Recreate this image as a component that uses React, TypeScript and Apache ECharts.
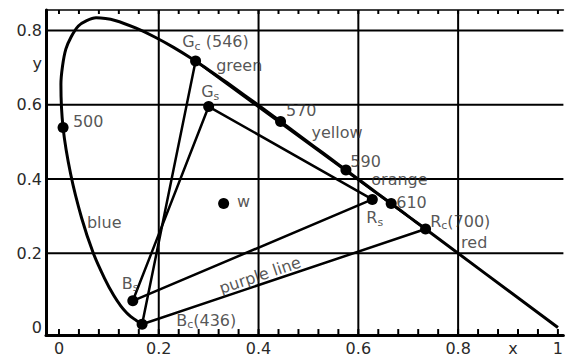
import React, { useEffect, useRef } from 'react';
import * as echarts from 'echarts';

// CIE 1931 spectral locus (chromaticity x, y), 436 nm to 700 nm
const locusWavelengths = [436, 440, 445, 450, 455, 460, 465, 470, 475, 480, 485, 490, 495, 500, 505, 510, 515, 520, 525, 530, 535, 540, 545, 550, 555, 560, 565, 570, 575, 580, 585, 590, 595, 600, 605, 610, 620, 630, 640, 650, 660, 680, 700];
const locusX = [0.1666, 0.1644, 0.1611, 0.1566, 0.151, 0.144, 0.1355, 0.1241, 0.1096, 0.0913, 0.0687, 0.0454, 0.0235, 0.0082, 0.0039, 0.0139, 0.0389, 0.0743, 0.1142, 0.1547, 0.1929, 0.2296, 0.2658, 0.3016, 0.3373, 0.3731, 0.4087, 0.4441, 0.4788, 0.5125, 0.5448, 0.5752, 0.6029, 0.627, 0.6482, 0.6658, 0.6915, 0.7079, 0.719, 0.726, 0.73, 0.7334, 0.7347];
const locusY = [0.0089, 0.0109, 0.0138, 0.0177, 0.0227, 0.0297, 0.0399, 0.0578, 0.0868, 0.1327, 0.2007, 0.295, 0.4127, 0.5384, 0.6548, 0.7502, 0.812, 0.8338, 0.8262, 0.8059, 0.7816, 0.7543, 0.7243, 0.6923, 0.6589, 0.6245, 0.5896, 0.5547, 0.5202, 0.4866, 0.4544, 0.4242, 0.3965, 0.3725, 0.3514, 0.334, 0.3083, 0.292, 0.2809, 0.274, 0.27, 0.2666, 0.2653];
// the x + y = 1 line carries on past 700 nm down to the x axis
const locusTail = [1.0, 0.0];

// CIE primaries (G_c, R_c, B_c) and the display primaries (G_s, R_s, B_s)
const primaryC = { g: [0.2738, 0.7174], r: [0.7347, 0.2653], b: [0.1666, 0.0089] };
const primaryS = { g: [0.3, 0.595], r: [0.628, 0.345], b: [0.148, 0.072] };
const whitePoint = [0.33, 0.334];

// marked wavelengths on the locus
const markedWavelengths = [500, 570, 590, 610];
const markedX = [0.0082, 0.4441, 0.5752, 0.6658];
const markedY = [0.5384, 0.5547, 0.4242, 0.334];

// axis ranges, grid and axis ticks
const X_MIN = -0.026;
const X_MAX = 1.011;
const Y_MIN = -0.02;
const Y_MAX = 0.855;
const gridLinesX = [0.2, 0.4, 0.6, 0.8];
const gridLinesY = [0.2, 0.4, 0.6, 0.8];
const xLabelValues = [0, 0.2, 0.4, 0.6, 0.8, 0.91, 1];
const xLabelTexts = ['0', '0.2', '0.4', '0.6', '0.8', 'x', '1'];
const yLabelValues = [0, 0.2, 0.4, 0.6, 0.71, 0.8];
const yLabelTexts = ['0', '0.2', '0.4', '0.6', 'y', '0.8'];
const minorTicksX = [0, 0.04, 0.08, 0.12, 0.16, 0.2, 0.24, 0.28, 0.32, 0.36, 0.4, 0.44, 0.48, 0.52, 0.56, 0.6, 0.64, 0.68, 0.72, 0.76, 0.8, 0.84, 0.88, 0.92, 0.96, 1];
// tick mark centres, just inside the bottom and top frame (data units)
const TICK_BOTTOM_Y = Y_MIN + 0.008;
const TICK_TOP_Y = Y_MAX - 0.0054;

// annotations: text, and the data point where the text starts
const annotationTexts = ['500', '{m|G}{s|c}{m| (546)}', 'green', '{m|G}{s|s}', '570', 'yellow', '590', 'orange', '610', '{m|R}{s|s}', '{m|R}{s|c}{m|(700)}', 'red', 'w', 'blue', '{m|B}{s|s}', '{m|B}{s|c}{m|(436)}'];
const annotationX = [0.028, 0.247, 0.315, 0.285, 0.455, 0.506, 0.584, 0.626, 0.676, 0.616, 0.744, 0.806, 0.357, 0.056, 0.126, 0.235];
const annotationY = [0.554, 0.770, 0.705, 0.635, 0.584, 0.525, 0.447, 0.399, 0.337, 0.296, 0.286, 0.230, 0.340, 0.283, 0.119, 0.020];
const purpleLabel = { text: 'purple line', x: 0.403, y: 0.141 };

const FONT = 'DejaVu Sans';
const INK = '#2a2a2a';

export default function App() {
  const ref = useRef<HTMLDivElement>(null);

  useEffect(() => {
    document.body.style.margin = '0';
    const chart = echarts.init(ref.current!, null, { renderer: 'svg' });

    const locusData = locusX.map((x, i) => [x, locusY[i], locusWavelengths[i]]);
    locusData.push([locusTail[0], locusTail[1], 0]);

    const triC = [primaryC.g, primaryC.r, primaryC.b, primaryC.g];
    const triS = [primaryS.g, primaryS.r, primaryS.b, primaryS.g];

    const dots = [
      primaryC.g, primaryC.r, primaryC.b,
      primaryS.g, primaryS.r, primaryS.b,
      whitePoint,
      ...markedX.map((x, i) => [x, markedY[i]]),
    ];

    const annotations = annotationTexts.map((t, i) => ({ value: [annotationX[i], annotationY[i]], text: t }));

    const lineStyleBlack = (w: number) => ({ color: '#000', width: w, type: 'solid' as const, opacity: 1 });

    // a plain two-point line segment in data coordinates
    const segment = (name: string, a: number[], b: number[], w: number, z: number) => ({
      name,
      type: 'line',
      data: [a, b],
      showSymbol: false,
      silent: true,
      clip: false,
      lineStyle: lineStyleBlack(w),
      emphasis: { disabled: true },
      z,
    });

    const gridSeries = [
      ...gridLinesX.map((v) => segment('grid x', [v, Y_MIN], [v, Y_MAX], 2, 1)),
      ...gridLinesY.map((v) => segment('grid y', [X_MIN, v], [X_MAX, v], 2, 1)),
    ];

    // small rectangular tick marks along the frame
    const tickMarks = (name: string, y: number, size: number[]) => ({
      name,
      type: 'scatter',
      data: minorTicksX.map((v) => [v, y]),
      symbol: 'rect',
      symbolSize: size,
      clip: false,
      silent: true,
      itemStyle: { color: '#000', opacity: 1 },
      emphasis: { disabled: true },
      z: 6,
    });

    chart.setOption({
      animation: false,
      backgroundColor: '#fff',
      grid: { left: 46, right: 0, top: 10, bottom: 20, containLabel: false },
      xAxis: [
        {
          type: 'value',
          min: X_MIN,
          max: X_MAX,
          position: 'bottom',
          axisLine: { show: true, onZero: false, lineStyle: lineStyleBlack(3) },
          axisTick: { show: false },
          axisLabel: {
            customValues: xLabelValues,
            formatter: (v: number) => xLabelTexts[xLabelValues.indexOf(v)] ?? '',
            fontFamily: FONT,
            fontSize: 16,
            color: INK,
            margin: 5,
            showMinLabel: true,
            showMaxLabel: true,
          },
          splitLine: { show: false },
        },
        {
          type: 'value',
          min: X_MIN,
          max: X_MAX,
          position: 'top',
          axisLine: { show: true, onZero: false, lineStyle: lineStyleBlack(1.6) },
          axisTick: { show: false },
          axisLabel: { show: false },
          splitLine: { show: false },
        },
      ],
      yAxis: {
        type: 'value',
        min: Y_MIN,
        max: Y_MAX,
        axisLine: { show: true, onZero: false, lineStyle: lineStyleBlack(3) },
        axisTick: { show: false },
        axisLabel: {
          customValues: yLabelValues,
          formatter: (v: number) => yLabelTexts[yLabelValues.indexOf(v)] ?? '',
          fontFamily: FONT,
          fontSize: 16,
          color: INK,
          margin: 4,
          showMinLabel: true,
          showMaxLabel: true,
        },
        splitLine: { show: false },
      },
      series: [
        ...gridSeries,
        tickMarks('ticks bottom', TICK_BOTTOM_Y, [2, 6]),
        tickMarks('ticks top', TICK_TOP_Y, [2, 4]),
        {
          name: 'spectral locus',
          type: 'line',
          data: locusData,
          showSymbol: false,
          smooth: 0.25,
          lineStyle: lineStyleBlack(3),
          z: 3,
        },
        {
          name: 'CIE primaries',
          type: 'line',
          data: triC,
          showSymbol: false,
          lineStyle: lineStyleBlack(2.5),
          z: 3,
        },
        {
          name: 'display primaries',
          type: 'line',
          data: triS,
          showSymbol: false,
          lineStyle: lineStyleBlack(2.5),
          z: 3,
        },
        {
          name: 'points',
          type: 'scatter',
          data: dots,
          symbol: 'circle',
          symbolSize: 11,
          itemStyle: { color: '#000', opacity: 1 },
          z: 4,
        },
        {
          name: 'labels',
          type: 'scatter',
          data: annotations,
          symbolSize: 0,
          silent: true,
          z: 5,
          label: {
            show: true,
            position: 'right',
            distance: 0,
            formatter: (p: any) => p.data.text,
            fontFamily: FONT,
            fontSize: 16,
            color: INK,
            rich: {
              m: { fontFamily: FONT, fontSize: 16, color: INK },
              s: { fontFamily: FONT, fontSize: 11, color: INK, padding: [9, 0, 0, 0] },
            },
          },
        },
        {
          name: 'purple line label',
          type: 'scatter',
          data: [{ value: [purpleLabel.x, purpleLabel.y], text: purpleLabel.text }],
          symbolSize: 0,
          silent: true,
          z: 5,
          label: {
            show: true,
            position: 'inside',
            rotate: 18.7,
            formatter: (p: any) => p.data.text,
            fontFamily: FONT,
            fontSize: 16,
            color: INK,
          },
        },
      ],
    });

    return () => chart.dispose();
  }, []);

  return <div ref={ref} style={{ width: 566, height: 356 }} />;
}
